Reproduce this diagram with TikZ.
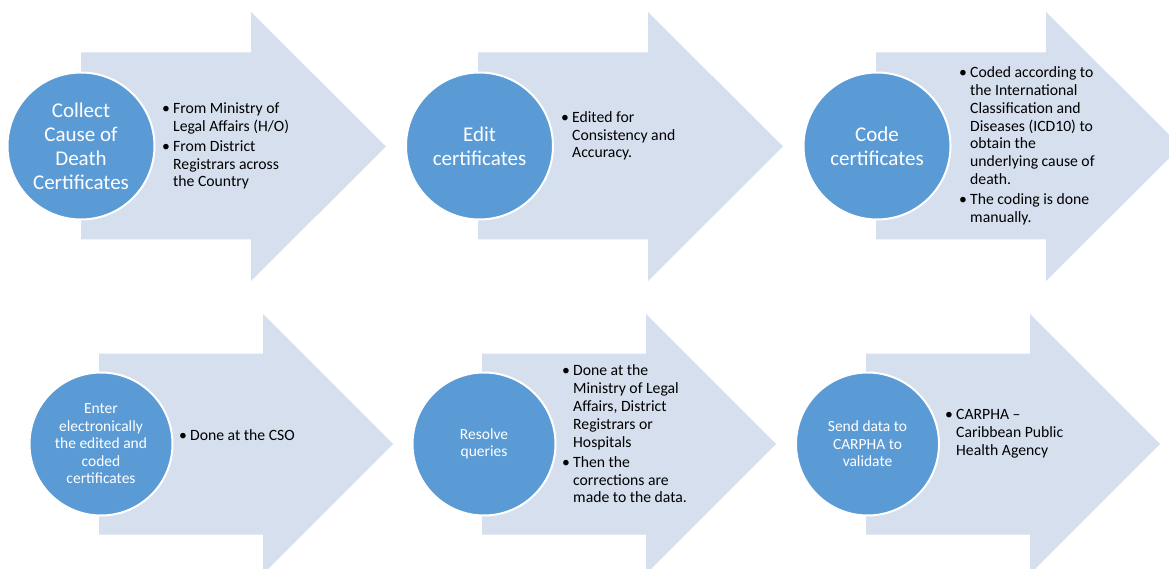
\documentclass[tikz,border=0pt]{standalone}
\usepackage{fontspec}
\setmainfont{Carlito}
\definecolor{arrowfill}{RGB}{213,223,238}
\definecolor{circfill}{RGB}{91,155,213}
\tikzset{
  arrowshape/.style={fill=arrowfill, draw=none},
  stagecirc/.style={circle, fill=circfill, draw=white, line width=2pt, minimum size=147pt, inner sep=0pt, text=white, align=center},
  bigtxt/.style={font=\fontsize{21}{24}\selectfont},
  smalltxt/.style={font=\fontsize{15.5}{17.5}\selectfont},
  bullettext/.style={anchor=west, inner sep=0pt, align=left, font=\fontsize{15.7}{17.8}\selectfont, text=black},
}
\newcommand\bitem{\makebox[11pt][l]{\textbullet}}
\newcommand\bcont{\hspace*{11pt}}
\begin{document}
\begin{tikzpicture}[x=1pt,y=-1pt]
\useasboundingbox (0,0) rectangle (1169,569);
\clip (0,0) rectangle (1169,569);
% top row arrows
\path[arrowshape] (81,52.5) -- (251,52.5) -- (251,12) -- (386,146.5) -- (251,281) -- (251,239.5) -- (81,239.5) -- cycle;
\path[arrowshape] (478,52.5) -- (648,52.5) -- (648,12) -- (783,146.5) -- (648,281) -- (648,239.5) -- (478,239.5) -- cycle;
\path[arrowshape] (876,52.5) -- (1046,52.5) -- (1046,12) -- (1181,146.5) -- (1046,281) -- (1046,239.5) -- (876,239.5) -- cycle;
% bottom row arrows
\path[arrowshape] (99,353.5) -- (263,353.5) -- (263,314) -- (393,444) -- (263,574) -- (263,534.5) -- (99,534.5) -- cycle;
\path[arrowshape] (482,353.5) -- (646,353.5) -- (646,314) -- (776,444) -- (646,574) -- (646,534.5) -- (482,534.5) -- cycle;
\path[arrowshape] (866,353.5) -- (1030,353.5) -- (1030,314) -- (1160,444) -- (1030,574) -- (1030,534.5) -- (866,534.5) -- cycle;
% circles
\node[stagecirc, bigtxt] (c1) at (81,146) {Collect\\Cause of\\Death\\Certificates};
\node[stagecirc, bigtxt] (c2) at (479.5,146) {Edit\\certificates};
\node[stagecirc, bigtxt] (c3) at (877,146) {Code\\certificates};
\node[stagecirc, smalltxt, minimum size=143pt] (c4) at (101,444) {Enter\\electronically\\the edited and\\coded\\certificates};
\node[stagecirc, smalltxt, minimum size=143pt] (c5) at (484,444) {Resolve\\queries};
\node[stagecirc, smalltxt, minimum size=143pt] (c6) at (867.5,444) {Send data to\\CARPHA to\\validate};
% bullet texts
\node[bullettext] (t1) at (162,146) {\bitem From Ministry of\\\bcont Legal Affairs (H/O)\\[2.5pt]\bitem From District\\\bcont Registrars across\\\bcont the Country};
\node[bullettext] (t2) at (561,136) {\bitem Edited for\\\bcont Consistency and\\\bcont Accuracy.};
\node[bullettext] (t3) at (959,146) {\bitem Coded according to\\\bcont the International\\\bcont Classification and\\\bcont Diseases (ICD10) to\\\bcont obtain the\\\bcont underlying cause of\\\bcont death.\\[2.5pt]\bitem The coding is done\\\bcont manually.};
\node[bullettext] (t4) at (179,435) {\bitem Done at the CSO};
\node[bullettext] (t5) at (562,434) {\bitem Done at the\\\bcont Ministry of Legal\\\bcont Affairs, District\\\bcont Registrars or\\\bcont Hospitals\\[2.5pt]\bitem Then the\\\bcont corrections are\\\bcont made to the data.};
\node[bullettext] (t6) at (945,434) {\bitem CARPHA --\\\bcont Caribbean Public\\\bcont Health Agency};
\end{tikzpicture}
\end{document}
